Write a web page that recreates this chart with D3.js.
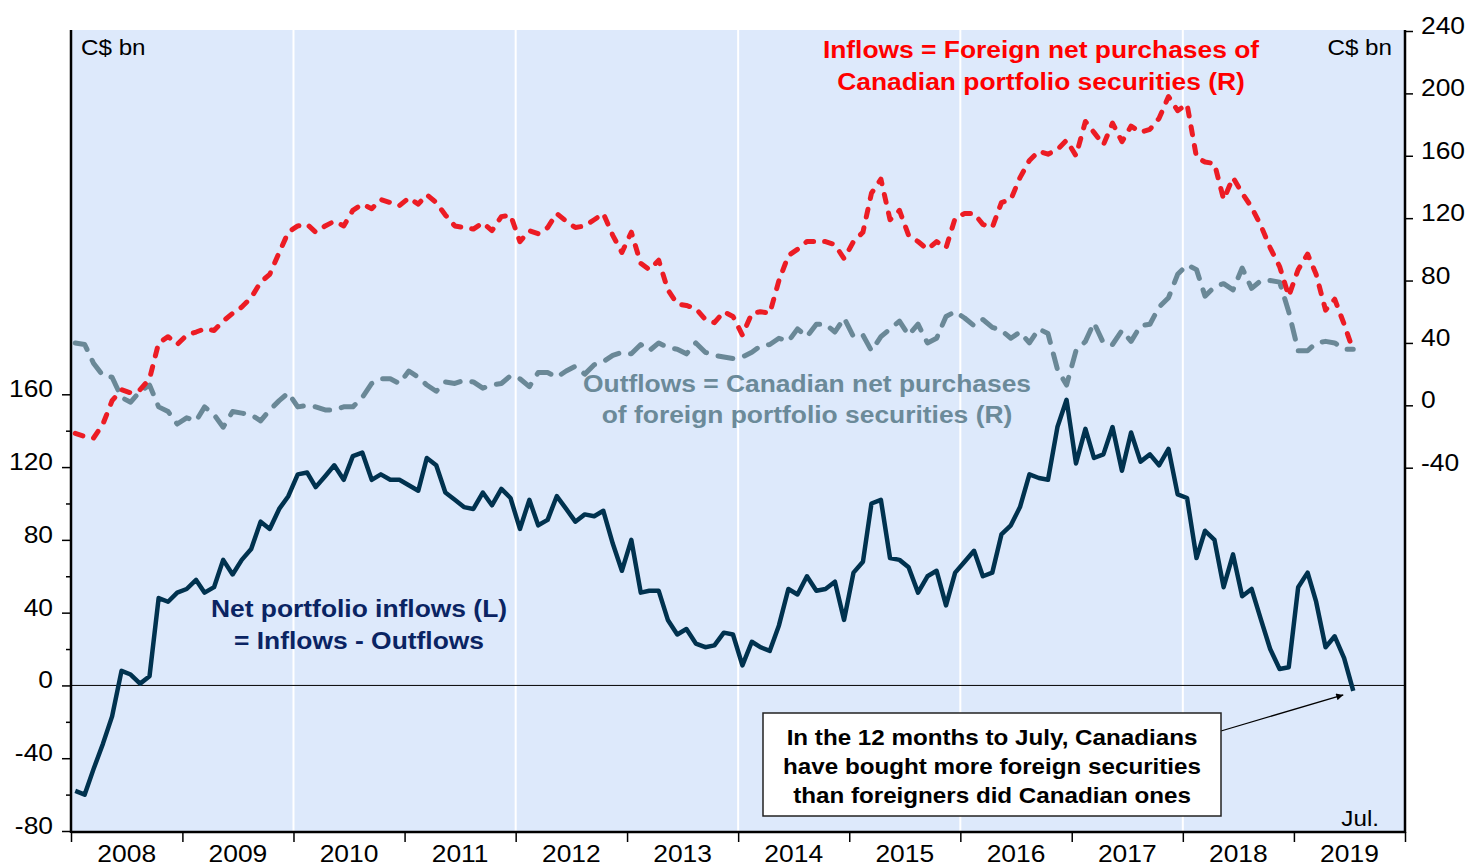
<!DOCTYPE html>
<html><head><meta charset="utf-8">
<script src="https://cdn.jsdelivr.net/npm/d3@7"></script>
<style>body{margin:0;background:#fff}svg{display:block}</style>
</head><body>
<svg id="c" width="1484" height="867"></svg>
<script>
// ---- data (C$ bn, 12-month sums), monthly Jan 2008 .. Jul 2019 ----
const startYear = 2008, startMonth = 0;
const netInflows = [-58,-60,-46,-32,-17,8,6,1,5,48,46,51,
 53,58,51,54,69,61,69,75,90,86,97,104,
 116,117,109,115,121,113,126,128,113,116,113,113,
 110,107,125,121,106,102,98,97,106,99,108,103,
 86,102,88,91,104,97,90,94,93,96,78,63,
 80,51,52,52,36,28,31,23,21,22,29,28,
 11,24,21,19,33,53,50,60,52,53,57,36,
 62,68,100,102,70,69,65,51,60,63,44,62,
 68,74,60,62,83,88,98,116,114,113,142,157,
 122,141,125,127,142,118,139,123,127,121,130,105,
 103,70,85,80,54,72,49,53,36,20,9,10,
 54,62,46,21,27,15,-3];
const inflows = [-18,-20,-21,-12,3,10,8,10,17,40,44,39,
 45,47,49,48,54,59,63,69,79,84,98,111,
 115,116,111,115,118,115,125,129,126,132,130,128,
 133,129,135,130,122,115,114,113,117,112,121,122,
 105,112,110,114,123,118,114,115,119,123,109,98,
 111,91,87,93,74,65,64,62,55,53,60,57,
 45,59,60,59,80,96,100,105,105,105,103,94,
 105,111,136,145,119,125,109,105,100,105,101,120,
 123,123,116,114,130,132,146,157,163,161,164,170,
 160,182,175,167,181,169,179,175,177,184,198,189,
 193,159,156,155,132,146,136,127,115,101,89,70,
 87,97,84,61,68,52,35];
const outflows = [40,39,27,19,18,5,2,9,13,-1,-4,-12,
 -8,-10,-1,-6,-14,-4,-5,-6,-10,-3,3,8,
 -1,0,-1,-3,-3,-1,-1,5,14,17,17,14,
 22,18,13,9,15,14,16,15,11,13,14,19,
 17,12,21,21,18,22,25,20,26,28,32,34,
 33,39,35,40,37,36,33,40,34,32,31,30,
 31,34,38,39,43,41,49,44,52,52,47,56,
 44,45,35,44,49,54,45,52,40,43,57,60,
 56,51,55,50,48,43,47,40,49,46,23,13,
 35,41,53,40,39,48,41,51,52,63,69,84,
 90,87,70,76,78,74,88,75,80,80,79,60,
 35,35,40,41,40,36,36];
const years = [2008,2009,2010,2011,2012,2013,2014,2015,2016,2017,2018,2019];
const leftTicks = [-80,-40,0,40,80,120,160];
const leftMinor = [-60,-20,20,60,100,140];
const rightTicks = [-40,0,40,80,120,160,200,240];
const gridYears = [2010,2012,2014,2016,2018];

const months = netInflows.map((_, i) => new Date(startYear, startMonth + i, 15));

// ---- layout ----
const L = 71, R = 1405, T = 30, B = 832;
const svg = d3.select("#c");
const x = d3.scaleTime().domain([new Date(2008,0,1), new Date(2020,0,1)]).range([L, R]);
const yL = d3.scaleLinear().domain([-80,160]).range([831,394.3]);
const yR = d3.scaleLinear().domain([-40,240]).range([467.7,31]);

const FONT = "'Liberation Sans', Arial, Helvetica, sans-serif";
function txt(x0, y0, s, o) {
  o = o || {};
  return svg.append("text")
    .attr("transform", `translate(${x0},${y0}) scale(${o.sx || 1.1},1)`)
    .attr("text-anchor", o.anchor || "middle")
    .style("font-family", FONT)
    .style("font-size", (o.size || 24) + "px")
    .style("font-weight", o.bold ? "bold" : "normal")
    .style("fill", o.fill || "#000")
    .text(s);
}

// background
svg.append("rect").attr("x", L).attr("y", T).attr("width", R - L).attr("height", B - T).attr("fill", "#dde9fb");
// white gridlines
svg.selectAll(".grid").data(gridYears).join("line")
  .attr("x1", d => x(new Date(d,0,1))).attr("x2", d => x(new Date(d,0,1)))
  .attr("y1", T).attr("y2", B).attr("stroke", "#fff").attr("stroke-width", 2);
// zero line
svg.append("line").attr("x1", L).attr("x2", R).attr("y1", yL(0)).attr("y2", yL(0))
  .attr("stroke", "#000").attr("stroke-width", 1);

// lines
const lineL = d3.line().x((d, i) => x(months[i])).y(d => yL(d));
const lineR = d3.line().x((d, i) => x(months[i])).y(d => yR(d));
svg.append("path").attr("d", lineR(outflows)).attr("fill", "none")
  .attr("stroke", "#6a8897").attr("stroke-width", 5).attr("stroke-linecap", "round")
  .attr("stroke-linejoin", "round").attr("stroke-dasharray", "15,12");
svg.append("path").attr("d", lineR(inflows)).attr("fill", "none")
  .attr("stroke", "#ec1c24").attr("stroke-width", 5).attr("stroke-linecap", "round")
  .attr("stroke-linejoin", "round").attr("stroke-dasharray", "8,11");
svg.append("path").attr("d", lineL(netInflows)).attr("fill", "none")
  .attr("stroke", "#00324f").attr("stroke-width", 4.5).attr("stroke-linejoin", "round");

// axes
const axisStyle = g => { g.selectAll("path.domain").remove(); g.selectAll("line").attr("stroke", "#000").attr("stroke-width", 1.5); g.selectAll("text").remove(); };
svg.append("g").attr("transform", `translate(${L},0)`)
  .call(d3.axisLeft(yL).tickValues(leftTicks).tickSize(9)).call(axisStyle);
svg.append("g").attr("transform", `translate(${L},0)`)
  .call(d3.axisLeft(yL).tickValues(leftMinor).tickSize(5)).call(axisStyle);
svg.append("g").attr("transform", `translate(${R},0)`)
  .call(d3.axisRight(yR).tickValues(rightTicks).tickSize(8)).call(axisStyle);
svg.append("g").attr("transform", `translate(0,${B})`)
  .call(d3.axisBottom(x).tickValues(years.concat([2020]).map(y => new Date(y,0,1))).tickSize(10)).call(axisStyle);
// axis lines
svg.append("line").attr("x1", L).attr("x2", L).attr("y1", T).attr("y2", B + 1).attr("stroke", "#000").attr("stroke-width", 2.5);
svg.append("line").attr("x1", R).attr("x2", R).attr("y1", T).attr("y2", B + 1).attr("stroke", "#000").attr("stroke-width", 2.5);
svg.append("line").attr("x1", L).attr("x2", R).attr("y1", B).attr("y2", B).attr("stroke", "#000").attr("stroke-width", 2.5);

// tick labels (sit slightly above their tick, as in the reference)
leftTicks.forEach(v => txt(53, yL(v) + 3, String(v), {anchor: "end"}));
rightTicks.forEach(v => txt(1421, yR(v) + 3, String(v), {anchor: "start"}));
years.forEach(yv => txt((x(new Date(yv,0,1)) + x(new Date(yv + 1,0,1))) / 2, 862, String(yv)));

// unit labels
txt(81, 55, "C$ bn", {anchor: "start", size: 22});
txt(1392, 55, "C$ bn", {anchor: "end", size: 22});
txt(1379, 826, "Jul.", {anchor: "end", size: 22});

// series labels
const RED = "#ff0000", GRAY = "#6b8a99", NAVY = "#0a2463";
txt(1041, 58, "Inflows = Foreign net purchases of", {bold: true, fill: RED});
txt(1041, 90, "Canadian portfolio securities (R)", {bold: true, fill: RED});
txt(807, 392, "Outflows = Canadian net purchases", {bold: true, fill: GRAY});
txt(807, 423, "of foreign portfolio securities (R)", {bold: true, fill: GRAY});
txt(359, 617, "Net portfolio inflows (L)", {bold: true, fill: NAVY});
txt(359, 649, "= Inflows - Outflows", {bold: true, fill: NAVY});

// annotation
svg.append("defs").append("marker").attr("id", "ah").attr("viewBox", "0 0 10 10")
  .attr("refX", 10).attr("refY", 5).attr("markerWidth", 9).attr("markerHeight", 7)
  .attr("markerUnits", "userSpaceOnUse").attr("orient", "auto")
  .append("path").attr("d", "M0,0 L10,5 L0,10 Z").attr("fill", "#000");
const lastI = netInflows.length - 1;
svg.append("line").attr("x1", 1221).attr("y1", 731)
  .attr("x2", x(months[lastI]) - 10).attr("y2", yL(netInflows[lastI]) + 4)
  .attr("stroke", "#000").attr("stroke-width", 1.3).attr("marker-end", "url(#ah)");
svg.append("rect").attr("x", 763).attr("y", 713).attr("width", 458).attr("height", 103)
  .attr("fill", "#fff").attr("stroke", "#222").attr("stroke-width", 1.5);
txt(992, 745, "In the 12 months to July, Canadians", {bold: true, size: 22});
txt(992, 774, "have bought more foreign securities", {bold: true, size: 22});
txt(992, 803, "than foreigners did Canadian ones", {bold: true, size: 22});
</script>
</body></html>
